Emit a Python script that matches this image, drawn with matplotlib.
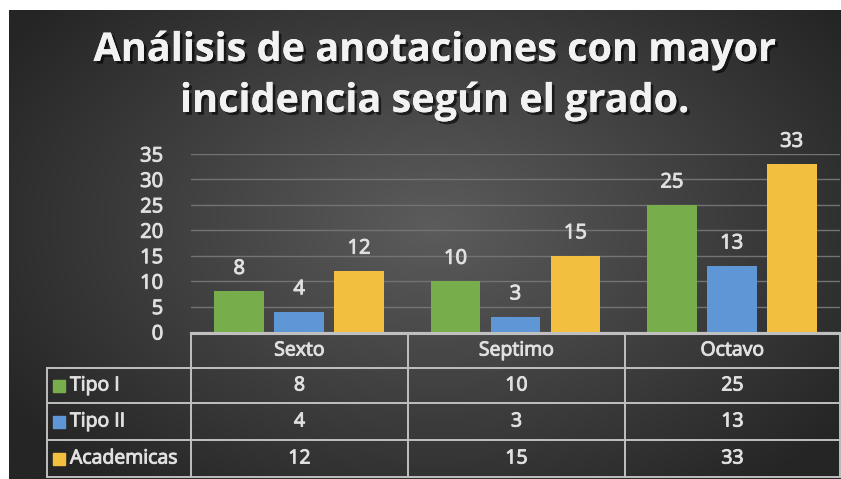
import numpy as np
import matplotlib
matplotlib.use("Agg")
import matplotlib.pyplot as plt
import matplotlib.patheffects as pe

# data
grados = ["Sexto", "Septimo", "Octavo"]
series = ["Tipo I", "Tipo II", "Academicas"]
tipo1 = [8, 10, 25]
tipo2 = [4, 3, 13]
academicas = [12, 15, 33]
colores = ["#78ad4c", "#5f97d6", "#f2c03e"]
yticks = [0, 5, 10, 15, 20, 25, 30, 35]
titulo = "Análisis de anotaciones con mayor\nincidencia según el grado."

W, H = 841, 479
plt.rcParams['font.family'] = ['Open Sans', 'DejaVu Sans']
fig = plt.figure(figsize=(W / 100, H / 100), dpi=100, facecolor="white")

# background axes in pixel coords
bg = fig.add_axes([0, 0, 1, 1])
yy, xx = np.mgrid[0:H, 0:W]
r = np.sqrt(((xx - 430) / 520.0) ** 2 + ((yy - 220) / 340.0) ** 2)
r = np.clip(r, 0, 1)
c0 = np.array([0x5c, 0x5c, 0x5c]) / 255
c1 = np.array([0x25, 0x25, 0x25]) / 255
img = c0[None, None, :] * (1 - r[..., None]) + c1[None, None, :] * r[..., None]
bg.imshow(img, extent=(9, W, H, 10), aspect="auto", zorder=0)
bg.set_xlim(0, W)
bg.set_ylim(H, 0)
bg.axis("off")

# title
bg.text(435, 76, titulo, ha="center", va="center", fontsize=28.5, fontweight="bold",
        color="#f2f2f2", linespacing=1.4,
        path_effects=[pe.withSimplePatchShadow(offset=(2, -2), shadow_rgbFace="black", alpha=0.6), pe.Normal()])

# table
lc = "#c0c0c0"
tc = "#e0e0e0"
fs = 14
thick = [pe.withStroke(linewidth=0.7, foreground=tc)]
col_x = [191, 408, 625, 840]
row_y = [333, 368, 403, 440, 477]
lw = 1.4
bg.plot([col_x[0], col_x[-1]], [row_y[0], row_y[0]], color=lc, lw=2.2, zorder=3)
for y in row_y[1:]:
    bg.plot([47, col_x[-1]], [y, y], color=lc, lw=lw, zorder=3)
for x in col_x:
    bg.plot([x, x], [row_y[0], row_y[-1]], color=lc, lw=lw, zorder=3)
bg.plot([47, 47], [row_y[1], row_y[-1]], color=lc, lw=lw, zorder=3)
for j, g in enumerate(grados):
    bg.text((col_x[j] + col_x[j + 1]) / 2, (row_y[0] + row_y[1]) / 2, g,
            ha="center", va="center", fontsize=fs, color=tc, path_effects=thick)
valores = [tipo1, tipo2, academicas]
for i, s in enumerate(series):
    yc = (row_y[i + 1] + row_y[i + 2]) / 2
    bg.add_patch(plt.Rectangle((53, yc - 6), 12, 12, color=colores[i], zorder=3))
    bg.text(70, yc, s, ha="left", va="center", fontsize=fs, color=tc, path_effects=thick)
    for j in range(len(grados)):
        bg.text((col_x[j] + col_x[j + 1]) / 2, yc, str(valores[i][j]),
                ha="center", va="center", fontsize=fs, color=tc, path_effects=thick)

# bar chart
ax = fig.add_axes([191 / W, (H - 332) / H, (840 - 191) / W, (332 - 154) / H])
ax.patch.set_alpha(0)
x = np.arange(len(grados))
off = 0.277
bw = 0.23
for k, vals in enumerate(valores):
    bars = ax.bar(x + (k - 1) * off, vals, bw, color=colores[k], zorder=3)
    for b, v in zip(bars, vals):
        ax.text(b.get_x() + b.get_width() / 2, v + 4.4, str(v), ha="center", va="center",
                fontsize=14.5, color=tc, clip_on=False, path_effects=thick)
ax.set_xlim(-0.5, 2.5)
ax.set_ylim(0, 35)
ax.set_yticks(yticks)
ax.set_xticks([])
ax.tick_params(axis="y", length=0, pad=20, labelsize=14.5, labelcolor=tc)
for t in ax.get_yticklabels():
    t.set_path_effects(thick)
ax.yaxis.grid(True, color="#737373", lw=1.0, zorder=0)
for s in ax.spines.values():
    s.set_visible(False)

fig.savefig("out.png", dpi=100, facecolor="white")
